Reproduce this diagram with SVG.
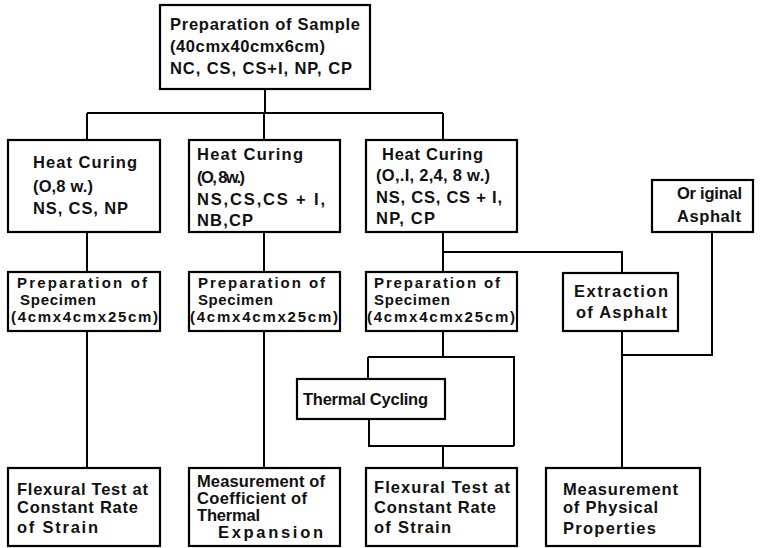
<svg xmlns="http://www.w3.org/2000/svg" width="765" height="548" viewBox="0 0 765 548">
<style>
.b{fill:#fff;stroke:#000;stroke-width:2.2}
.c{fill:none;stroke:#000;stroke-width:2}
text{font-family:"Liberation Sans",Arial,sans-serif;font-weight:bold;font-size:16.5px;fill:#111}
.s{font-size:15px}
</style>
<g id="connectors" class="c">
<path d="M265 89V113M87 113H443M87 113V140M264 113V140M443 113V140"/>
<path d="M87 232V272M264 232V272M443 232V272M443 252H622V273"/>
<path d="M87 331V468M264 331V468"/>
<path d="M443 331V357M368 357H514V446M368 357V379M369 419V446H514M443 446V468"/>
<path d="M712 232V355H622M622 331V468"/>
</g>
<g id="n_sample"><rect class="b" x="160" y="5" width="210" height="84"/>
<text x="170" y="30" textLength="190">Preparation of Sample</text>
<text x="170" y="52" textLength="155">(40cmx40cmx6cm)</text>
<text x="170" y="74" textLength="182">NC, CS, CS+I, NP, CP</text></g>
<g id="n_hc1"><rect class="b" x="8" y="140" width="152" height="92"/>
<text x="33" y="168" textLength="104">Heat Curing</text>
<text x="33" y="192" textLength="60">(O,8 w.)</text>
<text x="33" y="214" textLength="95">NS, CS, NP</text></g>
<g id="n_hc2"><rect class="b" x="189" y="140" width="151" height="92"/>
<text x="197" y="160" textLength="106">Heat Curing</text>
<text x="197" y="183" textLength="48">(O, 8w.)</text>
<text x="197" y="205" textLength="128">NS,CS,CS + I,</text>
<text x="197" y="226" textLength="56">NB,CP</text></g>
<g id="n_hc3"><rect class="b" x="366" y="140" width="151" height="92"/>
<text x="382" y="160" textLength="101">Heat Curing</text>
<text x="376" y="181" textLength="114">(O,.I, 2,4, 8 w.)</text>
<text x="376" y="203" textLength="126">NS, CS, CS + I,</text>
<text x="376" y="224" textLength="59">NP, CP</text></g>
<g id="n_orig"><rect class="b" x="652" y="180" width="101" height="52"/>
<text x="677" y="199" textLength="65">Or iginal</text>
<text x="677" y="222" textLength="64">Asphalt</text></g>
<g id="n_prep1"><rect class="b" x="8" y="272" width="152" height="59"/>
<text class="s" x="17" y="288" textLength="130">Preparation of</text>
<text class="s" x="20" y="305" textLength="76">Specimen</text>
<text class="s" x="11" y="322" textLength="147">(4cmx4cmx25cm)</text></g>
<g id="n_prep2"><rect class="b" x="189" y="272" width="151" height="59"/>
<text class="s" x="198" y="288" textLength="127">Preparation of</text>
<text class="s" x="198" y="305" textLength="75">Specimen</text>
<text class="s" x="190" y="322" textLength="148">(4cmx4cmx25cm)</text></g>
<g id="n_prep3"><rect class="b" x="366" y="272" width="151" height="59"/>
<text class="s" x="374" y="288" textLength="126">Preparation of</text>
<text class="s" x="374" y="305" textLength="76">Specimen</text>
<text class="s" x="367" y="322" textLength="148">(4cmx4cmx25cm)</text></g>
<g id="n_extract"><rect class="b" x="563" y="273" width="115" height="58"/>
<text x="574" y="297" textLength="94">Extraction</text>
<text x="576" y="318" textLength="91">of Asphalt</text></g>
<g id="n_thermal"><rect class="b" x="297" y="379" width="148" height="40"/>
<text x="303" y="405" textLength="125">Thermal Cycling</text></g>
<g id="n_flex1"><rect class="b" x="8" y="468" width="152" height="78"/>
<text x="17" y="495" textLength="131">Flexural Test at</text>
<text x="17" y="513" textLength="121">Constant Rate</text>
<text x="17" y="533" textLength="81">of Strain</text></g>
<g id="n_coef"><rect class="b" x="189" y="468" width="151" height="78"/>
<text x="197" y="487" textLength="128">Measurement of</text>
<text x="197" y="504" textLength="110">Coefficient of</text>
<text x="197" y="521" textLength="63">Thermal</text>
<text x="218" y="538" textLength="105">Expansion</text></g>
<g id="n_flex2"><rect class="b" x="366" y="468" width="151" height="78"/>
<text x="374" y="493" textLength="136">Flexural Test at</text>
<text x="374" y="513" textLength="122">Constant Rate</text>
<text x="374" y="533" textLength="77">of Strain</text></g>
<g id="n_phys"><rect class="b" x="546" y="468" width="154" height="78"/>
<text x="563" y="495" textLength="115">Measurement</text>
<text x="563" y="513" textLength="95">of Physical</text>
<text x="563" y="534" textLength="93">Properties</text></g>
</svg>
